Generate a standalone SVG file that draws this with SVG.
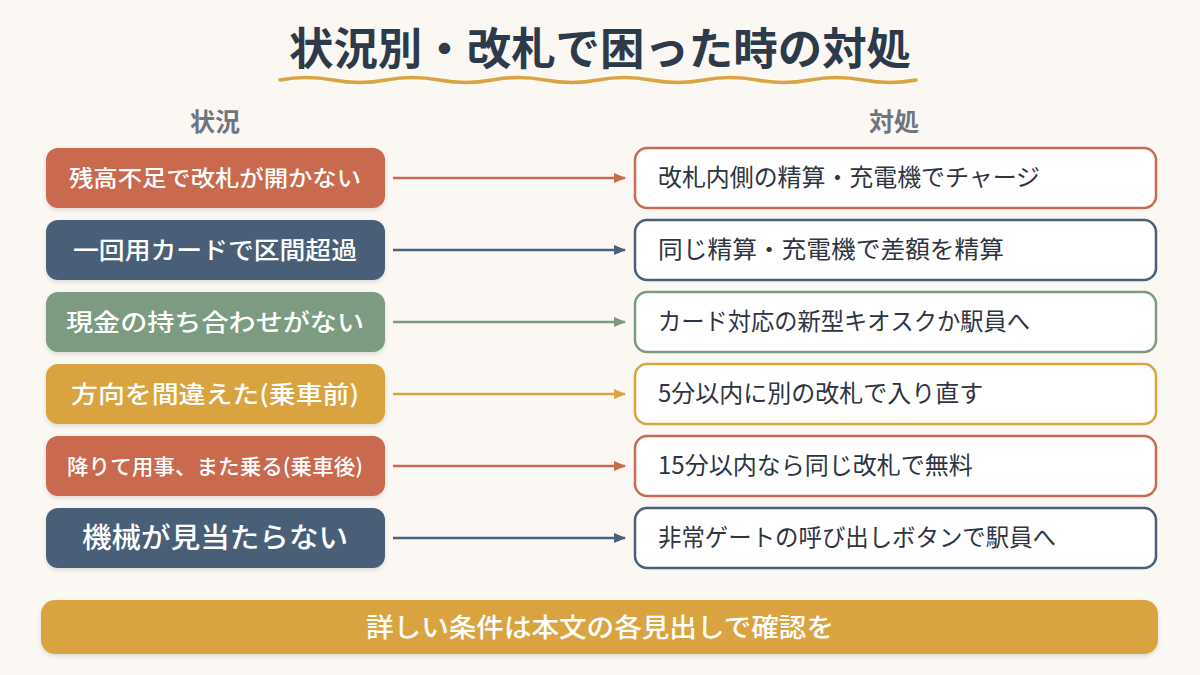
<svg xmlns="http://www.w3.org/2000/svg" width="1200" height="675" viewBox="0 0 1200 675">
<defs>
<style>
text{font-family:"Noto Sans CJK JP","Noto Sans",sans-serif}
.title{font-size:44px;font-weight:700;fill:#2D3A4A}
.hdr{font-size:25px;font-weight:700;fill:#6C7580}
.lt{fill:#fff;font-weight:500;text-anchor:middle}
.rt{font-size:24px;fill:#2E3440}
.rbox{fill:#fff;stroke-width:2.5}
.c1{fill:#C96B50}.c2{fill:#4A5F78}.c3{fill:#7B9B81}.c4{fill:#D9A441}
.s1{stroke:#C96B50}.s2{stroke:#4A5F78}.s3{stroke:#7B9B81}.s4{stroke:#D9A441}
.con{stroke-width:2.5;fill:none}
</style>
<filter id="sh" x="-10%" y="-20%" width="120%" height="150%">
<feDropShadow dx="0" dy="2" stdDeviation="2" flood-color="#000" flood-opacity="0.12"/>
</filter>
<marker id="a1" markerWidth="12" markerHeight="10" refX="11" refY="5" orient="auto" markerUnits="userSpaceOnUse"><path d="M0,0 L12,5 L0,10 Z" fill="#C96B50"/></marker>
<marker id="a2" markerWidth="12" markerHeight="10" refX="11" refY="5" orient="auto" markerUnits="userSpaceOnUse"><path d="M0,0 L12,5 L0,10 Z" fill="#4A5F78"/></marker>
<marker id="a3" markerWidth="12" markerHeight="10" refX="11" refY="5" orient="auto" markerUnits="userSpaceOnUse"><path d="M0,0 L12,5 L0,10 Z" fill="#7B9B81"/></marker>
<marker id="a4" markerWidth="12" markerHeight="10" refX="11" refY="5" orient="auto" markerUnits="userSpaceOnUse"><path d="M0,0 L12,5 L0,10 Z" fill="#D9A441"/></marker>
</defs>
<rect width="1200" height="675" fill="#FBF7F3"/>
<g id="title">
<text class="title" x="600" y="65" text-anchor="middle" textLength="622" lengthAdjust="spacingAndGlyphs">状況別・改札で困った時の対処</text>
<path d="M280,80 q26,-5 53,0 t53,0 t53,0 t53,0 t53,0 t53,0 t53,0 t53,0 t53,0 t53,0 t53,0 t53,0" fill="none" stroke="#D9A441" stroke-width="3.5" stroke-linecap="round"/>
</g>
<g id="headers">
<text class="hdr" x="215" y="131" text-anchor="middle">状況</text>
<text class="hdr" x="894" y="131" text-anchor="middle">対処</text>
</g>
<g id="connectors">
<line class="con s1" x1="393" y1="178" x2="625" y2="178" marker-end="url(#a1)"/>
<line class="con s2" x1="393" y1="250" x2="625" y2="250" marker-end="url(#a2)"/>
<line class="con s3" x1="393" y1="322" x2="625" y2="322" marker-end="url(#a3)"/>
<line class="con s4" x1="393" y1="394" x2="625" y2="394" marker-end="url(#a4)"/>
<line class="con s1" x1="393" y1="466" x2="625" y2="466" marker-end="url(#a1)"/>
<line class="con s2" x1="393" y1="538" x2="625" y2="538" marker-end="url(#a2)"/>
</g>
<g id="s1"><rect class="c1" x="46" y="148" width="339" height="60" rx="12" filter="url(#sh)"/><text class="lt" x="215" y="186" font-size="22" textLength="292" lengthAdjust="spacingAndGlyphs">残高不足で改札が開かない</text></g>
<g id="s2"><rect class="c2" x="46" y="220" width="339" height="60" rx="12" filter="url(#sh)"/><text class="lt" x="215" y="259" font-size="24" textLength="284" lengthAdjust="spacingAndGlyphs">一回用カードで区間超過</text></g>
<g id="s3"><rect class="c3" x="46" y="292" width="339" height="60" rx="12" filter="url(#sh)"/><text class="lt" x="215" y="331" font-size="24" textLength="298" lengthAdjust="spacingAndGlyphs">現金の持ち合わせがない</text></g>
<g id="s4"><rect class="c4" x="46" y="364" width="339" height="60" rx="12" filter="url(#sh)"/><text class="lt" x="215" y="403" font-size="24" textLength="288" lengthAdjust="spacingAndGlyphs">方向を間違えた(乗車前)</text></g>
<g id="s5"><rect class="c1" x="46" y="436" width="339" height="60" rx="12" filter="url(#sh)"/><text class="lt" x="215" y="474" font-size="21" textLength="296" lengthAdjust="spacingAndGlyphs">降りて用事、また乗る(乗車後)</text></g>
<g id="s6"><rect class="c2" x="46" y="508" width="339" height="60" rx="12" filter="url(#sh)"/><text class="lt" x="215" y="548" font-size="28" textLength="266" lengthAdjust="spacingAndGlyphs">機械が見当たらない</text></g>
<g id="r1"><rect class="rbox s1" x="635" y="148" width="521" height="60" rx="12"/><text class="rt" x="658" y="186" textLength="382" lengthAdjust="spacingAndGlyphs">改札内側の精算・充電機でチャージ</text></g>
<g id="r2"><rect class="rbox s2" x="635" y="220" width="521" height="60" rx="12"/><text class="rt" x="658" y="258" textLength="346" lengthAdjust="spacingAndGlyphs">同じ精算・充電機で差額を精算</text></g>
<g id="r3"><rect class="rbox s3" x="635" y="292" width="521" height="60" rx="12"/><text class="rt" x="658" y="330" textLength="372" lengthAdjust="spacingAndGlyphs">カード対応の新型キオスクか駅員へ</text></g>
<g id="r4"><rect class="rbox s4" x="635" y="364" width="521" height="60" rx="12"/><text class="rt" x="658" y="402">5分以内に別の改札で入り直す</text></g>
<g id="r5"><rect class="rbox s1" x="635" y="436" width="521" height="60" rx="12"/><text class="rt" x="658" y="474">15分以内なら同じ改札で無料</text></g>
<g id="r6"><rect class="rbox s2" x="635" y="508" width="521" height="60" rx="12"/><text class="rt" x="658" y="546" textLength="398" lengthAdjust="spacingAndGlyphs">非常ゲートの呼び出しボタンで駅員へ</text></g>
<g id="footer"><rect class="c4" x="41" y="600" width="1117" height="54" rx="14" filter="url(#sh)"/><text x="600" y="637" text-anchor="middle" font-size="26" font-weight="500" fill="#fff" textLength="468" lengthAdjust="spacingAndGlyphs">詳しい条件は本文の各見出しで確認を</text></g>
</svg>
